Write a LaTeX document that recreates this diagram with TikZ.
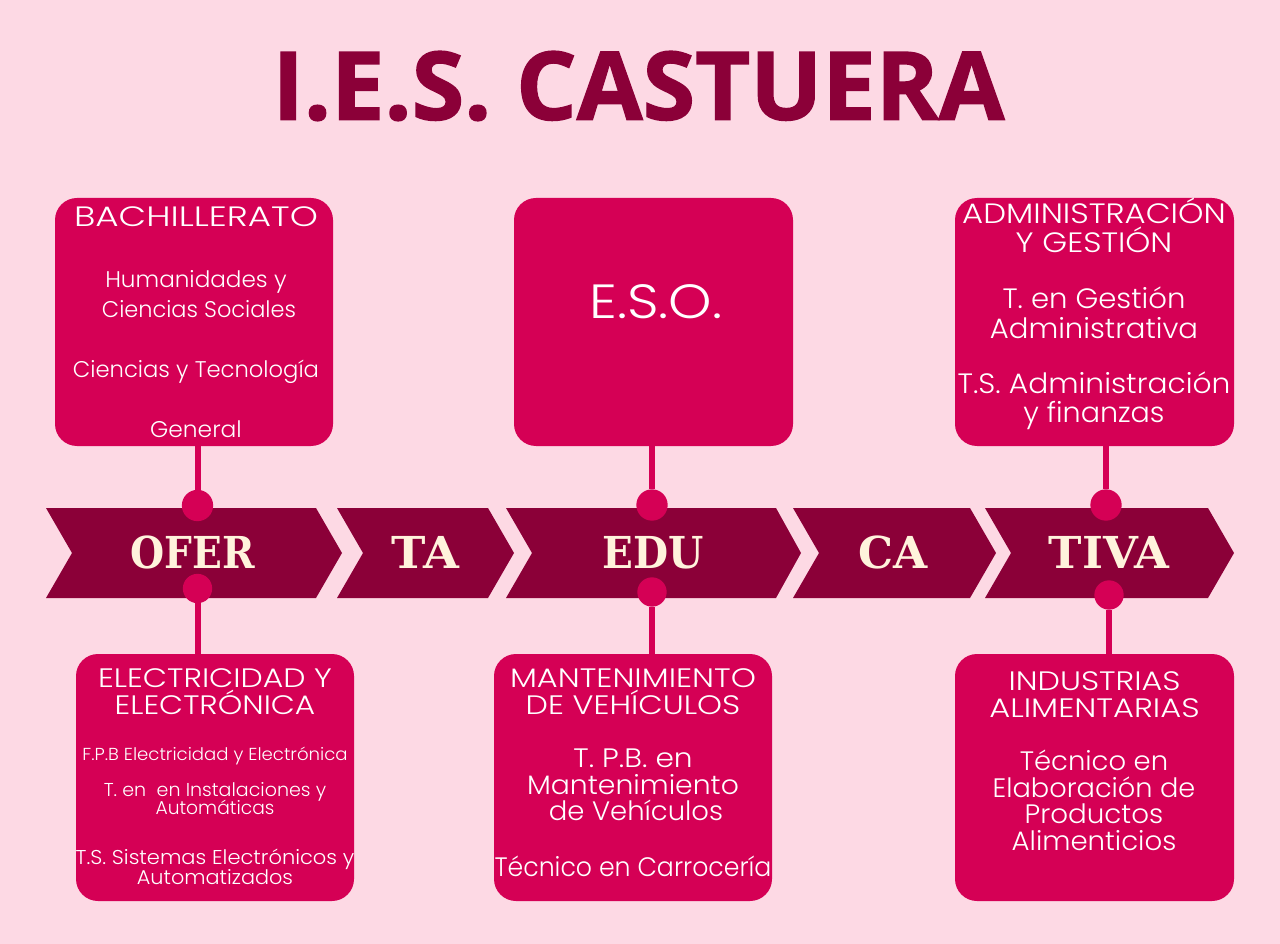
\documentclass[tikz,border=0pt]{standalone}
\usepackage{fontspec}
\setmainfont{Poppins Light}
\newfontfamily\titlefont{Open Sans}[BoldFeatures={FakeBold=1.5}]
\newfontfamily\chevfont{DejaVu Serif}
\definecolor{bg}{HTML}{FDD9E4}
\definecolor{dark}{HTML}{8B0038}
\definecolor{mag}{HTML}{D50055}
\definecolor{cream}{HTML}{FFF3DC}
\tikzset{
  card/.style={fill=mag,rounded corners=16.5pt},
  stem/.style={draw=mag,line width=4.5pt},
  dot/.style={circle,fill=mag,minimum size=#1,inner sep=0pt},
  dot/.default=23.5pt,
  chev/.style={fill=dark},
  chevtext/.style={text=cream,font=\chevfont\fontsize{33}{33}\selectfont\bfseries,anchor=center,inner sep=0pt,text height=24pt,text depth=0pt},
  txt/.style={text=white,anchor=center,inner sep=0pt,font=\fontsize{#1}{#1}\selectfont,text height=#1*0.7pt,text depth=0pt},
  txt/.default=18
}
\newcommand{\chevron}[4]{%
  \path[chev] (#1,508) -- (#3,508) -- (#4,553) -- (#3,598) -- (#1,598) -- (#2,553) -- cycle;
}
\begin{document}
\begin{tikzpicture}[x=0.75pt,y=-0.75pt]
\useasboundingbox (0,0) rectangle (1280,944);
\fill[bg] (0,0) rectangle (1280,944);
\node[text=dark,anchor=center,inner sep=0pt,xscale=1.007,font=\titlefont\fontsize{71}{71}\selectfont\bfseries] (title) at (638.5,86) {I.E.S. CASTUERA};
% cards
\path[card] (55,198) rectangle (333,446);
\path[card] (514,198) rectangle (793,446);
\path[card] (955,198) rectangle (1234,446);
\path[card] (76,654) rectangle (354,901);
\path[card] (494,654) rectangle (772,901);
\path[card] (955,654) rectangle (1234,901);
% chevrons
\chevron{46}{72}{316}{342}
\chevron{337}{363}{488}{514}
\chevron{506}{532}{776}{801}
\chevron{793}{819}{970}{996}
\chevron{985}{1011}{1208}{1234}
% dots and stems
\node[dot] (d1) at (197.5,505.5) {};
\node[dot] (d2) at (652,505) {};
\node[dot] (d3) at (1106,505) {};
\node[dot=22pt] (d4) at (197.5,588.5) {};
\node[dot=22pt] (d5) at (652,592) {};
\node[dot=22pt] (d6) at (1109,595) {};
\coordinate (s1) at (197.5,446);
\coordinate (s2) at (652,446);
\coordinate (s3) at (1106,446);
\coordinate (s4) at (197.5,654);
\coordinate (s5) at (652,654);
\coordinate (s6) at (1109,654);
\draw[stem] (s1) -- (d1);
\draw[stem] (s2) -- (d2);
\draw[stem] (s3) -- (d3);
\draw[stem] (s4) -- (d4);
\draw[stem] (s5) -- (d5);
\draw[stem] (s6) -- (d6);
% chevron text
\node[chevtext,xscale=0.89] (c1) at (193,552) {OFER};
\node[chevtext,xscale=1.05] (c2) at (425,552) {TA};
\node[chevtext,xscale=0.92] (c3) at (653,552) {EDU};
\node[chevtext,xscale=1.0] (c4) at (893,552) {CA};
\node[chevtext,xscale=1.02] (c5) at (1109,552) {TIVA};
% text top
\node[txt=21,xscale=1.277] (a1) at (196,217) {BACHILLERATO};
\node[txt=17,xscale=1.02] (a2) at (196,280) {Humanidades y};
\node[txt=17,xscale=0.99] (a3) at (199,310) {Ciencias Sociales};
\node[txt=17,xscale=1.0] (a4) at (196,370) {Ciencias y Tecnología};
\node[txt=17,xscale=1.03] (a5) at (196,430) {General};
\node[txt=36,xscale=1.15] (b1) at (656,302) {E.S.O.};
\node[txt=21,xscale=1.155] (e1) at (1094,214) {ADMINISTRACIÓN};
\node[txt=21,xscale=1.137] (e2) at (1094,243) {Y GESTIÓN};
\node[txt=21,xscale=1.04] (e3) at (1094,299) {T. en Gestión};
\node[txt=21,xscale=1.04] (e4) at (1094,329) {Administrativa};
\node[txt=21,xscale=1.06] (e5) at (1094,384) {T.S. Administración};
\node[txt=21,xscale=1.02] (e6) at (1094,413) {y finanzas};
% text bottom
\node[txt=20,xscale=1.18] (f1) at (215,678) {ELECTRICIDAD Y};
\node[txt=20,xscale=1.17] (f2) at (215,705) {ELECTRÓNICA};
\node[txt=13,xscale=1.045] (f3) at (215,754) {F.P.B Electricidad y Electrónica};
\node[txt=14,xscale=1.02] (f4) at (215,790) {T. en\ \ en Instalaciones y};
\node[txt=14] (f5) at (215,808) {Automáticas};
\node[txt=15,xscale=1.05] (f6) at (215,857) {T.S. Sistemas Electrónicos y};
\node[txt=15,xscale=1.04] (f7) at (215,877) {Automatizados};
\node[txt=20,xscale=1.2] (g1) at (633,678) {MANTENIMIENTO};
\node[txt=20,xscale=1.19] (g2) at (633,705) {DE VEHÍCULOS};
\node[txt=20,xscale=1.11] (g3) at (633,758) {T. P.B. en};
\node[txt=20,xscale=1.06] (g4) at (633,785) {Mantenimiento};
\node[txt=20,xscale=1.03] (g5) at (636,811) {de Vehículos};
\node[txt=20,xscale=0.945] (g6) at (633,867) {Técnico en Carrocería};
\node[txt=20,xscale=1.19] (h1) at (1094.5,681) {INDUSTRIAS};
\node[txt=20,xscale=1.205] (h2) at (1094.5,708) {ALIMENTARIAS};
\node[txt=20,xscale=1.03] (h3) at (1094,761) {Técnico en};
\node[txt=20,xscale=1.02] (h4) at (1094,788) {Elaboración de};
\node[txt=20,xscale=1.04] (h5) at (1094,814) {Productos};
\node[txt=20,xscale=1.035] (h6) at (1094,841) {Alimenticios};
\end{tikzpicture}
\end{document}
